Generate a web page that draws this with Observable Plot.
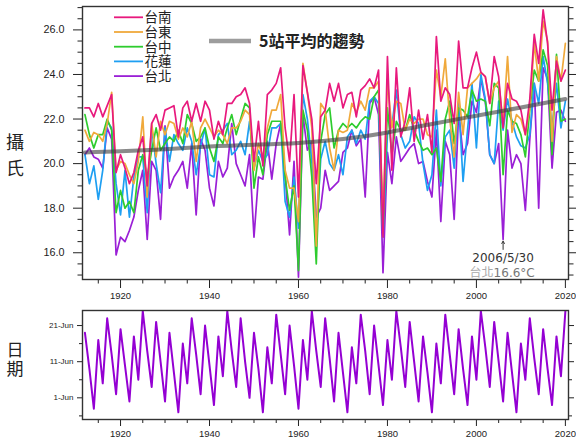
<!DOCTYPE html>
<html><head><meta charset="utf-8">
<script src="https://cdn.jsdelivr.net/npm/d3@7"></script>
<script src="https://cdn.jsdelivr.net/npm/@observablehq/plot@0.6"></script>
<style>
body{margin:0;background:#fff;}
#wrap{position:relative;width:576px;height:441px;overflow:hidden;font-family:"Liberation Sans",Arial,sans-serif;background:#fff;}
#wrap > *{position:absolute;left:0;}
.ytitle{font-family:"Noto Sans CJK TC","Noto Sans CJK SC",sans-serif;color:#222;text-align:center;width:30px;}
</style></head><body><div id="wrap"></div>
<script>
// ---------------- data ----------------
const firstYear = 1912;
const stationNames = ["台南", "台東", "台中", "花蓮", "台北"];
const tainan = [
  22.5, 22.5, 22.1, 22.7, 22.1, 22.6, 23.1, 19.6, 20.4, 19.8,
  19.1, 19.6, 20.6, 21.2, 19.0, 21.8, 22.2, 21.5, 22.4, 22.5,
  22.6, 21.2, 22.5, 22.8, 21.9, 22.7, 21.9, 22.8, 22.4, 21.1,
  21.9, 21.3, 22.7, 22.7, 23.0, 23.1, 23.4, 22.7, 20.1, 21.9,
  19.9, 23.1, 23.3, 23.6, 24.3, 21.6, 20.1, 23.1, 18.5, 24.4,
  23.2, 22.0, 19.1, 22.1, 22.4, 23.6, 22.8, 23.6, 22.5, 23.1,
  23.2, 22.1, 23.3, 23.5, 23.8, 23.4, 24.2, 16.7, 24.8, 19.7,
  24.3, 21.2, 21.9, 23.4, 21.0, 22.4, 21.1, 22.2, 20.5, 25.7,
  22.8, 23.4, 23.1, 21.8, 25.5, 23.4, 23.4, 24.3, 25.0, 24.1,
  23.9, 22.7, 24.8, 23.9, 21.6, 23.6, 22.9, 22.8, 22.4, 21.3,
  22.9, 25.8, 24.5, 26.9, 25.4, 22.4, 24.6, 23.7, 24.2
];
const taitung = [
  21.5, 21.0, 21.4, 21.3, 21.0, 21.8, 23.2, 19.7, 20.1, 20.0,
  19.5, 19.1, 20.1, 22.1, 18.5, 21.8, 20.3, 21.9, 21.3, 21.9,
  21.8, 21.1, 21.6, 21.2, 21.9, 20.1, 21.6, 22.0, 21.6, 21.2,
  21.5, 21.3, 20.9, 21.6, 21.6, 21.9, 22.4, 22.2, 19.7, 20.9,
  20.3, 21.6, 22.4, 22.4, 23.1, 19.7, 18.9, 18.9, 17.4, 24.5,
  23.2, 21.6, 16.3, 22.7, 22.4, 20.7, 19.7, 21.5, 21.4, 21.5,
  22.7, 22.3, 22.8, 22.4, 23.4, 23.4, 23.7, 17.5, 23.7, 21.6,
  22.8, 22.7, 21.5, 22.0, 21.8, 22.0, 22.0, 21.3, 21.2, 24.2,
  23.0, 24.7, 22.0, 20.3, 23.2, 21.3, 23.4, 23.6, 23.8, 24.1,
  23.9, 22.7, 23.4, 23.7, 21.8, 24.8, 21.4, 22.2, 22.0, 21.3,
  22.5, 25.4, 23.7, 26.4, 25.5, 21.0, 24.8, 23.7, 25.4
];
const taichung = [
  22.2, 21.3, 20.7, 21.3, 21.3, 22.0, 21.5, 17.8, 18.8, 18.0,
  18.3, 17.8, 19.7, 20.4, 19.4, 20.6, 21.6, 20.6, 20.9, 21.2,
  21.0, 21.5, 20.9, 22.2, 21.8, 21.0, 21.2, 21.6, 20.7, 20.1,
  21.2, 20.9, 21.6, 22.2, 21.3, 22.0, 22.7, 22.5, 18.9, 20.3,
  19.5, 21.3, 21.9, 21.9, 21.9, 19.4, 17.9, 19.0, 15.2, 22.4,
  21.5, 19.4, 15.5, 21.0, 22.2, 22.5, 20.7, 21.5, 21.8, 21.6,
  21.8, 21.6, 21.9, 22.1, 22.0, 23.0, 23.3, 16.9, 22.5, 20.4,
  21.9, 21.5, 21.5, 22.2, 21.5, 21.0, 20.6, 20.7, 20.4, 20.7,
  19.2, 22.0, 22.8, 20.9, 22.5, 22.4, 22.1, 23.3, 22.8, 22.9,
  22.8, 21.7, 23.6, 23.4, 19.5, 22.4, 21.9, 21.8, 21.3, 20.3,
  22.4, 24.2, 23.7, 25.1, 24.4, 20.4, 24.9, 21.9, 22.0
];
const hualien = [
  20.4, 19.1, 19.9, 18.4, 19.7, 21.9, 21.6, 19.1, 17.7, 19.7,
  17.6, 19.4, 20.3, 20.3, 17.8, 21.6, 20.0, 18.7, 21.6, 20.1,
  21.3, 20.9, 20.6, 21.6, 21.0, 19.5, 20.8, 21.6, 19.5, 19.4,
  21.3, 21.5, 21.8, 20.4, 20.6, 21.0, 20.4, 21.9, 19.8, 20.6,
  20.1, 20.4, 21.6, 21.6, 21.8, 18.3, 17.6, 19.4, 17.1, 23.1,
  22.0, 20.1, 16.8, 20.2, 21.0, 20.0, 19.7, 20.4, 19.5, 21.2,
  21.5, 20.9, 21.5, 21.1, 22.8, 23.0, 22.7, 16.7, 21.3, 21.7,
  23.3, 21.3, 20.7, 21.0, 22.1, 21.8, 20.0, 18.8, 19.5, 22.4,
  19.0, 21.2, 21.5, 19.8, 22.8, 19.2, 21.5, 23.6, 20.7, 24.0,
  22.9, 20.4, 20.0, 22.8, 21.5, 22.9, 21.9, 21.2, 20.8, 20.7,
  21.3, 23.6, 22.7, 24.8, 23.6, 21.6, 23.6, 21.6, 22.8
];
const taipei = [
  20.4, 20.7, 20.3, 20.2, 19.8, 21.6, 21.1, 15.9, 16.7, 16.5,
  17.0, 17.6, 18.8, 19.7, 16.6, 20.1, 19.7, 17.5, 21.7, 18.9,
  19.4, 19.7, 20.1, 18.9, 20.9, 17.7, 21.1, 20.6, 18.9, 18.1,
  20.1, 19.4, 19.8, 21.8, 20.0, 19.5, 19.0, 20.4, 16.7, 19.4,
  19.3, 21.0, 19.3, 20.9, 21.8, 19.5, 16.8, 20.1, 14.9, 22.2,
  20.6, 21.0, 17.6, 18.0, 19.7, 18.8, 19.0, 19.2, 20.5, 20.7,
  21.5, 20.8, 21.1, 18.5, 22.7, 23.0, 22.2, 15.1, 20.5, 19.1,
  21.2, 20.1, 20.4, 20.7, 20.9, 20.0, 20.1, 19.2, 18.5, 21.5,
  17.4, 21.0, 20.4, 17.5, 22.3, 20.4, 20.9, 22.8, 22.3, 23.8,
  22.8, 20.4, 20.0, 20.9, 16.6, 21.5, 19.8, 20.4, 20.0, 17.9,
  21.1, 23.6, 18.0, 24.3, 23.8, 19.8, 22.3, 22.4, 21.9
];
// 5-station average trend (read at selected years)
const trendYears = [1912, 1920, 1930, 1940, 1950, 1960, 1970, 1980, 1990, 2000, 2010, 2020];
const trendValues = [20.5, 20.55, 20.65, 20.77, 20.85, 20.93, 21.1, 21.4, 21.78, 22.15, 22.52, 22.9];
const trendLabel = "5站平均的趨勢";
// Dragon Boat Festival date each year (month-day)
const festivalDates = [
  "06-19","06-09","05-29","06-17","06-05","06-23","06-13","06-02","06-20","06-10",
  "05-31","06-18","06-06","06-25","06-14","06-04","06-22","06-11","05-31","06-19",
  "06-08","05-28","06-16","06-05","06-23","06-13","06-02","06-21","06-10","05-30",
  "06-18","06-07","06-25","06-14","06-04","06-23","06-11","06-01","06-19","06-09",
  "05-28","06-15","06-05","06-24","06-13","06-02","06-21","06-10","05-29","06-17",
  "06-06","06-25","06-14","06-04","06-23","06-12","05-31","06-19","06-08","05-28",
  "06-15","06-05","06-24","06-14","06-02","06-21","06-10","05-30","06-17","06-06",
  "06-25","06-15","06-04","06-22","06-11","05-31","06-18","06-08","05-28","06-16",
  "06-05","06-24","06-13","06-02","06-20","06-09","05-30","06-18","06-06","06-25",
  "06-15","06-04","06-22","06-11","05-31","06-19","06-08","05-28","06-16","06-06",
  "06-23","06-12","06-02","06-20","06-09","05-30","06-18","06-07","06-25"
];
// tick labels
const yearTicks = [1920, 1940, 1960, 1980, 2000, 2020];
const yearMinorTicks = [1915, 1925, 1930, 1935, 1945, 1950, 1955, 1965, 1970, 1975, 1985, 1990, 1995, 2005, 2010, 2015];
const tempTicks = [16, 18, 20, 22, 24, 26];
const tempMinorTicks = [15, 15.5, 16.5, 17, 17.5, 18.5, 19, 19.5, 20.5, 21, 21.5, 22.5, 23, 23.5, 24.5, 25, 25.5, 26.5, 27];
const dateTicks = ["1-Jun", "11-Jun", "21-Jun"];
const dateMinorTicks = ["27-May", "6-Jun", "16-Jun"];
const annotation = [{year: 2006, temp: 16.6, date: "2006/5/30", station: "台北", value: "16.6°C"}];
const yTitleTop = ["攝", "氏"];
const yTitleBottom = ["日", "期"];

// ---------------- build ----------------
const colors = ["#e8197d", "#f0a93b", "#2ecc2e", "#1e9ff2", "#9a1fd6"];
const seriesByName = {"台南": tainan, "台東": taitung, "台中": taichung, "花蓮": hualien, "台北": taipei};
const years = tainan.map((_, i) => firstYear + i);
const drawOrder = ["台北", "花蓮", "台中", "台東", "台南"];
const rows = [];
for (const s of drawOrder) seriesByName[s].forEach((v, i) => rows.push({year: years[i], station: s, temp: v}));
const trend = trendYears.map((y, i) => ({year: y, temp: trendValues[i]}));

const latin = "Liberation Sans, Arial, sans-serif";
const cjk = "Noto Sans CJK TC, Noto Sans CJK SC, sans-serif";
const xDomain = [1911.45, 2020.7];
const blank = () => "";

const wrap = document.getElementById("wrap");

const topPlot = Plot.plot({
  width: 576, height: 305,
  marginLeft: 82, marginRight: 8, marginTop: 6, marginBottom: 26,
  style: {fontFamily: latin, fontSize: "10.8px", color: "#222", background: "transparent", overflow: "visible"},
  x: {domain: xDomain, label: null},
  y: {domain: [14.8, 27.05], label: null},
  color: {domain: stationNames, range: colors},
  marks: [
    Plot.line(rows, {x: "year", y: "temp", z: "station", stroke: "station", strokeWidth: 1.7}),
    Plot.line(trend, {x: "year", y: "temp", stroke: "#3c3c3c", strokeOpacity: 0.6, strokeWidth: 4, curve: "natural"}),
    Plot.arrow(annotation, {x1: "year", x2: "year", y1: d => d.temp - 0.45, y2: d => d.temp - 0.08, stroke: "#333", strokeWidth: 1, headLength: 4}),
    Plot.text(annotation, {x: "year", y: "temp", text: "date", dy: 19, fontSize: 12, fontFamily: "DejaVu Sans", fill: "#333"}),
    Plot.text(annotation, {x: "year", y: "temp", text: "station", dy: 34, dx: -9.5, textAnchor: "end", fontSize: 12, fontFamily: cjk, fill: "#aaa"}),
    Plot.text(annotation, {x: "year", y: "temp", text: "value", dy: 34, dx: -9.5, textAnchor: "start", fontSize: 12, fontFamily: "DejaVu Sans", fill: "#777"}),
    Plot.axisY(tempTicks, {anchor: "left", label: null, tickSize: 9, tickPadding: 9, tickFormat: d => d.toFixed(1), fontSize: 10.8}),
    Plot.axisY(tempMinorTicks, {anchor: "left", label: null, tickSize: 4.5, tickFormat: blank}),
    Plot.axisY(tempTicks, {anchor: "right", label: null, tickSize: 9, tickFormat: blank}),
    Plot.axisY(tempMinorTicks, {anchor: "right", label: null, tickSize: 4.5, tickFormat: blank}),
    Plot.axisX(yearTicks, {anchor: "bottom", label: null, tickSize: 9, tickPadding: 4, tickFormat: d => String(d), fontSize: 9.5}),
    Plot.axisX(yearMinorTicks, {anchor: "bottom", label: null, tickSize: 4.5, tickFormat: blank}),
    Plot.frame({stroke: "#333", strokeWidth: 1.4})
  ]
});
topPlot.style.top = "0px";
wrap.appendChild(topPlot);

const parseMD = d3.utcParse("%m-%d");
const parseTick = d3.utcParse("%d-%b");
const festival = festivalDates.map((s, i) => ({year: years[i], date: parseMD(s)}));

const bottomPlot = Plot.plot({
  width: 576, height: 136,
  marginLeft: 82, marginRight: 8, marginTop: 5, marginBottom: 22,
  style: {fontFamily: latin, fontSize: "8px", color: "#222", background: "transparent", overflow: "visible"},
  x: {domain: xDomain, label: null},
  y: {type: "utc", label: null, domain: [parseTick("26-May"), new Date(parseTick("25-Jun").getTime() + 4 * 3600e3)]},
  marks: [
    Plot.line(festival, {x: "year", y: "date", stroke: "#9400d3", strokeWidth: 2}),
    Plot.axisY(dateTicks.map(parseTick), {anchor: "left", label: null, tickSize: 5, tickPadding: 4, tickFormat: d3.utcFormat("%-d-%b"), fontSize: 8}),
    Plot.axisY(dateMinorTicks.map(parseTick), {anchor: "left", label: null, tickSize: 3, tickFormat: blank}),
    Plot.axisY(dateTicks.map(parseTick), {anchor: "right", label: null, tickSize: 5, tickFormat: blank}),
    Plot.axisY(dateMinorTicks.map(parseTick), {anchor: "right", label: null, tickSize: 3, tickFormat: blank}),
    Plot.axisX(yearTicks, {anchor: "bottom", label: null, tickSize: 7, tickPadding: 4, tickFormat: d => String(d), fontSize: 9.5}),
    Plot.axisX(yearMinorTicks, {anchor: "bottom", label: null, tickSize: 4, tickFormat: blank}),
    Plot.frame({stroke: "#333", strokeWidth: 1.4})
  ]
});
bottomPlot.style.top = "305px";
wrap.appendChild(bottomPlot);

// legend overlay
const svg = d3.select(wrap).append("svg").attr("width", 576).attr("height", 100).style("top", "0px").style("pointer-events", "none");
stationNames.forEach((s, i) => {
  const y = 17.3 + i * 14.7;
  svg.append("line").attr("x1", 114).attr("x2", 143).attr("y1", y).attr("y2", y)
    .attr("stroke", colors[i]).attr("stroke-width", 1.8);
  svg.append("text").attr("x", 144.5).attr("y", y).attr("dy", "0.36em")
    .attr("font-family", cjk).attr("font-size", 13.5).attr("fill", "#222").text(s);
});
svg.append("line").attr("x1", 209).attr("x2", 251).attr("y1", 41).attr("y2", 41)
  .attr("stroke", "#3c3c3c").attr("stroke-opacity", 0.5).attr("stroke-width", 4.5);
svg.append("text").attr("x", 259).attr("y", 41).attr("dy", "0.36em")
  .attr("font-family", cjk).attr("font-weight", "bold").attr("font-size", 16).attr("fill", "#222").text(trendLabel);

// y titles
function addTitle(chars, top, lh, size) {
  const d = document.createElement("div");
  d.className = "ytitle";
  d.style.top = top + "px";
  d.style.fontSize = size + "px";
  d.style.lineHeight = lh + "px";
  d.innerHTML = chars.join("<br>");
  wrap.appendChild(d);
}
addTitle(yTitleTop, 128, 26, 18);
addTitle(yTitleBottom, 340, 18.5, 17);
</script></body></html>
